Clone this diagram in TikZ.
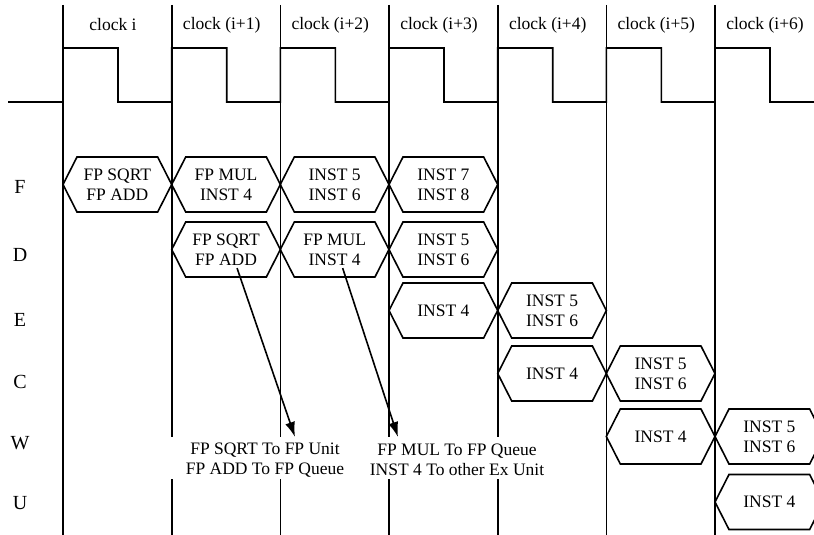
\documentclass[tikz,border=0pt]{standalone}
\usepackage{fontspec}
\setmainfont{Liberation Serif}
\usetikzlibrary{arrows.meta}

\newcommand{\stagefont}{\fontsize{17.5}{20}\selectfont}
% hexagon for one pipeline stage: name, left x, centre y, text
\newcommand{\hexstage}[4]{%
  \draw (#2,#3) -- ++(14,-27.5) -- ++(80.67,0) -- ++(14,27.5) -- ++(-14,27.5) -- ++(-80.67,0) -- cycle;
  \node[align=center,font=\stagefont,inner sep=2pt] (#1) at (#2+54.35,#3) {#4};}

\begin{document}
\begin{tikzpicture}[x=1pt,y=-1pt,line width=1.6pt,>={Latex[length=15pt,width=10pt]}]
\useasboundingbox (0,0) rectangle (814,535);
\clip (0,0) rectangle (814,535);
% column lines (broken behind the W row notes)
\draw (63,5) -- (63,535);
\foreach \x in {171.7,280.3,389,497.7} {
  \draw (\x,5) -- (\x,437);
  \draw (\x,479) -- (\x,535);
}
\draw (606.3,5) -- (606.3,535);
\draw (715,5) -- (715,535);
% clock wave
\draw (8,102) -- (63,102)
  \foreach \x in {63,171.7,280.3,389,497.7,606.3,715} { -- (\x,48) -- (\x+55,48) -- (\x+55,102) -- (\x+108.67,102) };
% clock labels
\foreach \x/\t in {63/i,171.7/(i+1),280.3/(i+2),389/(i+3),497.7/(i+4),606.3/(i+5),715/(i+6)}
  \node[font=\stagefont] at (\x+50,25) {clock \t};
% stage letters
\foreach \y/\s in {187/F,255/D,320/E,382/C,443/W,503/U}
  \node[font=\fontsize{20}{22}\selectfont] (row\s) at (20,\y) {\s};
% F row
\hexstage{fsq}{63}{184.5}{FP SQRT\\FP ADD}
\hexstage{fmul}{171.7}{184.5}{FP MUL\\INST 4}
\hexstage{fins56}{280.3}{184.5}{INST 5\\INST 6}
\hexstage{fins78}{389}{184.5}{INST 7\\INST 8}
% D row
\hexstage{dsq}{171.7}{249.5}{FP SQRT\\FP ADD}
\hexstage{dmul}{280.3}{249.5}{FP MUL\\INST 4}
\hexstage{dins56}{389}{249.5}{INST 5\\INST 6}
% E row
\hexstage{eins4}{389}{310.5}{INST 4}
\hexstage{eins56}{497.7}{310.5}{INST 5\\INST 6}
% C row
\hexstage{cins4}{497.7}{373.5}{INST 4}
\hexstage{cins56}{606.3}{373.5}{INST 5\\INST 6}
% W row
\hexstage{wins4}{606.3}{436.5}{INST 4}
\hexstage{wins56}{715}{436.5}{INST 5\\INST 6}
% U row
\hexstage{uins4}{715}{502}{INST 4}
% notes under the issue arrows
\node[align=center,font=\stagefont] (wsq) at (265,460) {FP SQRT To FP Unit\\FP ADD To FP Queue};
\node[align=center,font=\stagefont] (wmul) at (457,460) {FP MUL To FP Queue\\INST 4 To other Ex Unit};
\coordinate (tipA) at (295,437);
\coordinate (tipB) at (398,437);
\draw[->] ([xshift=11pt]dsq.south) -- (tipA);
\draw[->] ([xshift=8pt]dmul.south) -- (tipB);
\end{tikzpicture}
\end{document}
